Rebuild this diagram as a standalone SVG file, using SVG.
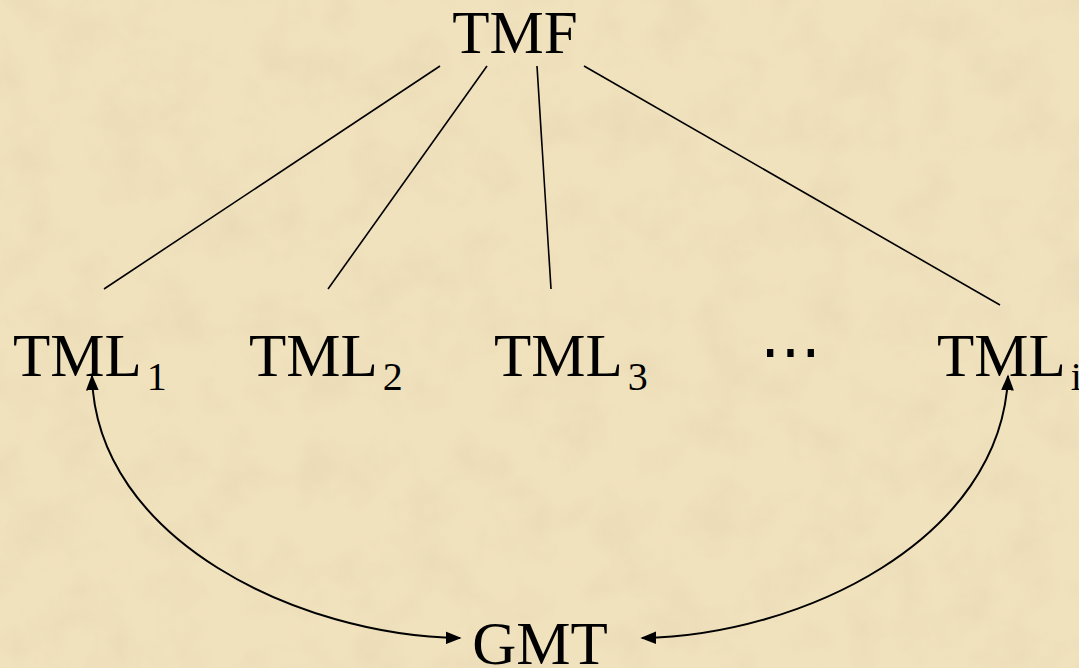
<svg xmlns="http://www.w3.org/2000/svg" width="1079" height="668" viewBox="0 0 1079 668">
  <defs>
    <filter id="parch" x="0" y="0" width="100%" height="100%">
      <feTurbulence type="fractalNoise" baseFrequency="0.02" numOctaves="5" seed="7" result="n"/>
      <feColorMatrix in="n" type="matrix" values="0 0 0 0 0.78  0 0 0 0 0.66  0 0 0 0 0.44  0 0 0 1.6 -0.65" result="c"/>
      <feComposite in="c" in2="SourceGraphic" operator="in"/>
    </filter>
    <marker id="ah" viewBox="0 0 10 10" refX="9" refY="5" markerWidth="8" markerHeight="8" orient="auto-start-reverse" markerUnits="strokeWidth">
      <path d="M0,1 L10,5 L0,9 z" fill="#000"/>
    </marker>
    <style>
      .lbl { font-family: "Liberation Serif", "Times New Roman", serif; font-size: 61px; fill: #000; }
      .sub { font-size: 40px; }
      .edge { stroke: #000; stroke-width: 1.6; fill: none; }
      .arc { stroke: #000; stroke-width: 2; fill: none; marker-start: url(#ah); marker-end: url(#ah); }
    </style>
  </defs>
  <rect width="1079" height="668" fill="#F1E2BE"/>
  <rect width="1079" height="668" fill="#fff" filter="url(#parch)" opacity="0.6"/>

  <g id="connectors">
    <line class="edge" x1="440" y1="66" x2="104" y2="289"/>
    <line class="edge" x1="487" y1="66" x2="328" y2="289"/>
    <line class="edge" x1="537" y1="66" x2="551" y2="289"/>
    <line class="edge" x1="584" y1="66" x2="1000" y2="305"/>
    <path class="arc" d="M 92 376 C 96 540, 300 636, 460 638"/>
    <path class="arc" d="M 1008 376 C 1002 540, 800 636, 642 638"/>
  </g>

  <g id="node-TMF"><text class="lbl" x="515" y="53" text-anchor="middle">TMF</text></g>
  <g id="node-TML1"><text class="lbl" x="13" y="376">TML<tspan class="sub" dx="5" dy="14">1</tspan></text></g>
  <g id="node-TML2"><text class="lbl" x="249" y="376">TML<tspan class="sub" dx="5" dy="14">2</tspan></text></g>
  <g id="node-TML3"><text class="lbl" x="494" y="376">TML<tspan class="sub" dx="5" dy="14">3</tspan></text></g>
  <g id="node-dots"><text class="lbl" x="790" y="372" text-anchor="middle">⋯</text></g>
  <g id="node-TMLi"><text class="lbl" x="937" y="376">TML<tspan class="sub" dx="5" dy="14">i</tspan></text></g>
  <g id="node-GMT"><text class="lbl" x="540" y="664" text-anchor="middle">GMT</text></g>
</svg>
